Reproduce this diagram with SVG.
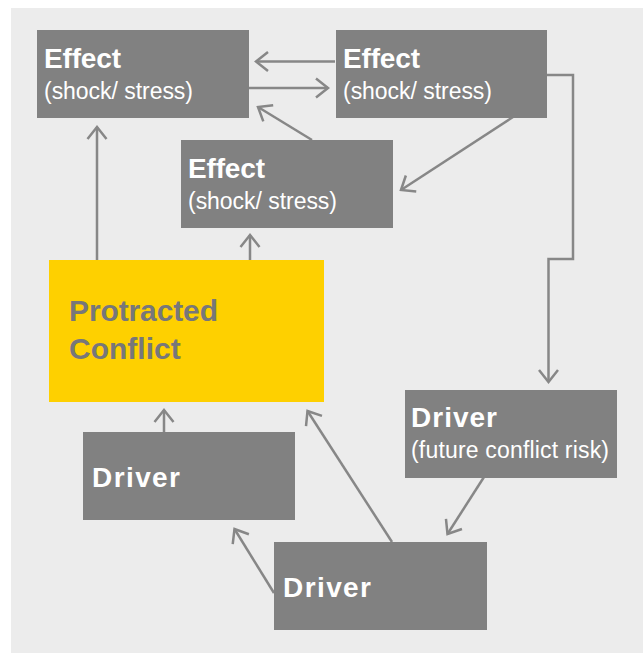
<svg xmlns="http://www.w3.org/2000/svg" width="643" height="653" viewBox="0 0 643 653">
<style>
.bg{fill:#ececec}
.node{fill:#818181}
.core{fill:#fed000}
.t{font-family:"Liberation Sans",Arial,sans-serif;fill:#ffffff}
.b{font-weight:bold;font-size:28px}
.r{font-size:23px}
.ct{font-family:"Liberation Sans",Arial,sans-serif;font-weight:bold;font-size:30px;fill:#77777a}
.c{fill:none;stroke:#878787;stroke-width:2.5}
</style>
<defs>
<marker id="ah" markerUnits="userSpaceOnUse" viewBox="-15 -12 17 24" markerWidth="17" markerHeight="24" refX="0" refY="0" orient="auto">
<path d="M-12,-9.5 L0,0 L-12,9.5" fill="none" stroke="#878787" stroke-width="2.5"/>
</marker>
</defs>
<rect class="bg" x="11" y="8" width="632" height="645"/>
<g id="connectors">
<line class="c" x1="335" y1="61.5" x2="256" y2="61.5" marker-end="url(#ah)"/>
<line class="c" x1="249" y1="88" x2="328" y2="88" marker-end="url(#ah)"/>
<line class="c" x1="312" y1="140" x2="258" y2="107" marker-end="url(#ah)"/>
<line class="c" x1="513" y1="117" x2="401" y2="190" marker-end="url(#ah)"/>
<polyline class="c" points="547,75 573,75 573,259 548.5,259 548.5,382" marker-end="url(#ah)"/>
<line class="c" x1="97" y1="260" x2="97" y2="127" marker-end="url(#ah)"/>
<line class="c" x1="250" y1="260" x2="250" y2="235" marker-end="url(#ah)"/>
<line class="c" x1="164" y1="432" x2="164" y2="410" marker-end="url(#ah)"/>
<line class="c" x1="392" y1="542" x2="307.5" y2="411" marker-end="url(#ah)"/>
<line class="c" x1="274" y1="593" x2="234.5" y2="529" marker-end="url(#ah)"/>
<line class="c" x1="484" y1="477" x2="447.5" y2="534" marker-end="url(#ah)"/>
</g>
<g id="effect1">
<rect class="node" x="37" y="30" width="212" height="88"/>
<text class="t b" x="44" y="68" textLength="77">Effect</text>
<text class="t r" x="44" y="99" textLength="149">(shock/ stress)</text>
</g>
<g id="effect2">
<rect class="node" x="336" y="30" width="211" height="88"/>
<text class="t b" x="343" y="68" textLength="77">Effect</text>
<text class="t r" x="343" y="99" textLength="149">(shock/ stress)</text>
</g>
<g id="effect3">
<rect class="node" x="181" y="140" width="212" height="88"/>
<text class="t b" x="188" y="178" textLength="77">Effect</text>
<text class="t r" x="188" y="209" textLength="149">(shock/ stress)</text>
</g>
<g id="protracted-conflict">
<rect class="core" x="49" y="260" width="275" height="142"/>
<text class="ct" x="69" y="321" textLength="149">Protracted</text>
<text class="ct" x="69" y="359">Conflict</text>
</g>
<g id="driver-future">
<rect class="node" x="405" y="390" width="212" height="88"/>
<text class="t b" x="411" y="427" textLength="86">Driver</text>
<text class="t r" x="411" y="458" textLength="198">(future conflict risk)</text>
</g>
<g id="driver-left">
<rect class="node" x="83" y="432" width="212" height="88"/>
<text class="t b" x="92" y="487" textLength="88">Driver</text>
</g>
<g id="driver-bottom">
<rect class="node" x="274" y="542" width="213" height="88"/>
<text class="t b" x="283" y="597" textLength="88">Driver</text>
</g>
</svg>
